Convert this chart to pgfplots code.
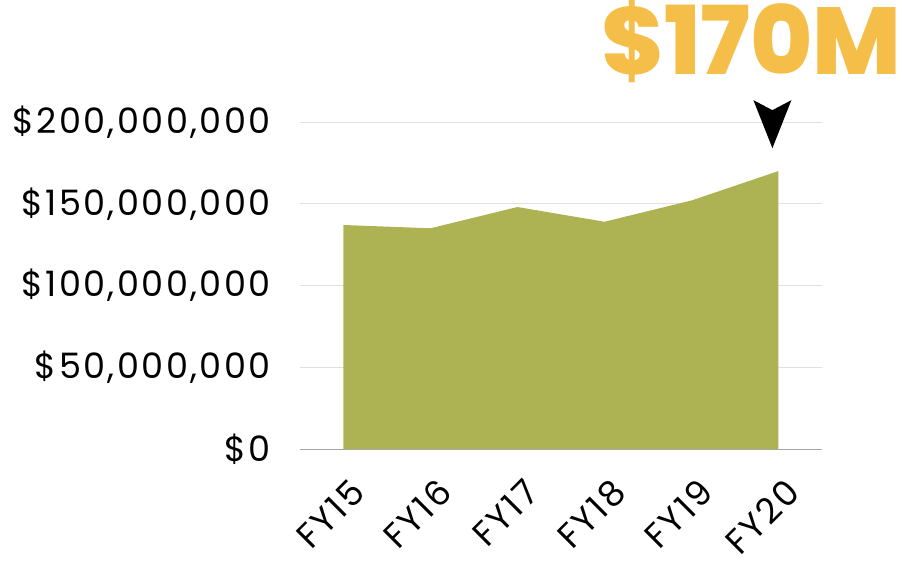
\documentclass[border=0pt]{standalone}
\usepackage{pgfplots}
\pgfplotsset{compat=1.18}
\usepackage{fontspec}
\setmainfont{Poppins}
\newfontfamily\heavy{Poppins ExtraBold}
\definecolor{areagreen}{RGB}{173,179,82}
\definecolor{bigorange}{RGB}{244,190,72}
\begin{document}
\begin{tikzpicture}
\begin{axis}[
  scale only axis, width=522pt, height=327pt,
  xmin=-0.5, xmax=5.5, ymin=0, ymax=200,
  xtick={0,1,2,3,4,5},
  xticklabels={FY15,FY16,FY17,FY18,FY19,FY20},
  ytick={0,50,100,150,200},
  yticklabels={{\$0},{\$50,000,000},{\$100,000,000},{\$150,000,000},{\$200,000,000}},
  axis x line*=bottom, axis y line*=left,
  y axis line style={draw=none},
  x axis line style={draw=black!35, line width=0.8pt},
  major tick length=0pt,
  ymajorgrids, grid style={color=black!12, line width=0.8pt},
  tick label style={font=\fontsize{35}{35}\selectfont\addfontfeature{LetterSpace=7}},
  yticklabel style={anchor=east, inner sep=0pt, xshift=-29pt},
  xticklabel style={rotate=45, anchor=east, inner sep=0pt, xshift=-15.5pt, yshift=-36.5pt},
  clip=false,
]
\addplot[fill=areagreen, draw=none] coordinates {(0,137)(1,135)(2,148)(3,139)(4,152)(5,170)} \closedcycle;
\fill[black] (axis cs:4.93,184) -- ++(-19pt,48pt) -- ++(19pt,-10pt) -- ++(19pt,10pt) -- cycle;
\end{axis}
\node[anchor=base east, text=bigorange, font=\fontsize{95}{95}\heavy, inner sep=0pt] at ([shift={(602pt,374pt)}]current axis.south west) {\$170M};
\pgfresetboundingbox
\path ([shift={(-300pt,-113pt)}]current axis.south west) rectangle ([shift={(603pt,449pt)}]current axis.south west);
\end{tikzpicture}
\end{document}
